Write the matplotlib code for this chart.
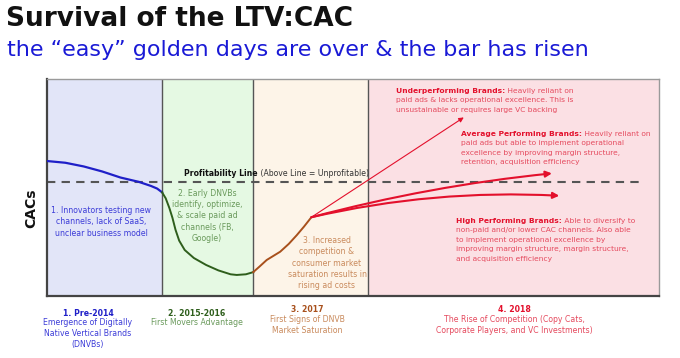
import matplotlib
matplotlib.use("Agg")
import matplotlib.pyplot as plt

W, H = 680, 358

# era boundaries on a 0-10 time scale, and CAC level on a 0-10 scale
era_edges = [0, 1.88, 3.37, 5.25, 10]
era_fills = ["#e2e5f8", "#e5f9e3", "#fdf4e8", "#fbe0e4"]
profit_line = 5.25

blue_x = [0, 0.3, 0.6, 0.9, 1.2, 1.5, 1.7, 1.8, 1.88]
blue_y = [6.22, 6.14, 5.97, 5.74, 5.46, 5.26, 5.07, 4.95, 4.78]
green_x = [1.88, 1.94, 2.0, 2.05, 2.1, 2.16, 2.25, 2.4, 2.6, 2.8, 3.0, 3.1, 3.25, 3.37]
green_y = [4.78, 4.5, 4.05, 3.6, 3.05, 2.55, 2.12, 1.75, 1.43, 1.18, 1.0, 0.97, 1.0, 1.1]
orange_x = [3.37, 3.47, 3.59, 3.7, 3.81, 3.95, 4.08, 4.2, 4.32]
orange_y = [1.1, 1.35, 1.66, 1.85, 2.04, 2.4, 2.8, 3.2, 3.63]

fork = (4.32, 3.63)
under_end = (6.81, 8.23)
average_end = (8.25, 5.65)
high_end = (8.37, 4.62)

era_labels = ["1. Pre-2014", "2. 2015-2016", "3. 2017", "4. 2018"]
era_subs = ["Emergence of Digitally\nNative Vertical Brands\n(DNVBs)",
            "First Movers Advantage",
            "First Signs of DNVB\nMarket Saturation",
            "The Rise of Competition (Copy Cats,\nCorporate Players, and VC Investments)"]
era_notes = ["1. Innovators testing new\nchannels, lack of SaaS,\nunclear business model",
             "2. Early DNVBs\nidentify, optimize,\n& scale paid ad\nchannels (FB,\nGoogle)",
             "3. Increased\ncompetition &\nconsumer market\nsaturation results in\nrising ad costs"]

BLUE, BLUE_T = "#1f1fc8", "#3c3cd8"
GREEN, GREEN_T = "#2e5e1c", "#6a9a5c"
BROWN, BROWN_T = "#a8501c", "#c98a5c"
RED, RED_T = "#e3102c", "#e54a5e"

plt.rcParams['font.family'] = ['DejaVu Sans']

fig = plt.figure(figsize=(W / 100, H / 100), dpi=100)
ax = fig.add_axes([47 / W, (H - 296) / H, 612 / W, 217 / H])
ax.set_xlim(0, 10)
ax.set_ylim(0, 10)
ax.set_xticks([])
ax.set_yticks([])
for s in ["left", "bottom"]:
    ax.spines[s].set_color("#444444")
    ax.spines[s].set_linewidth(1.6)
for s in ["top", "right"]:
    ax.spines[s].set_color("#9a9a9a")
    ax.spines[s].set_linewidth(1.0)

for i in range(4):
    ax.axvspan(era_edges[i], era_edges[i + 1], color=era_fills[i], zorder=0, lw=0)
for x in era_edges[1:4]:
    ax.axvline(x, color="#555555", lw=1.0, zorder=1)

ax.plot([0, 9.72], [profit_line, profit_line], color="#555555", lw=1.5,
        dashes=(4, 3), zorder=2)

ax.plot(blue_x, blue_y, color=BLUE, lw=1.6, zorder=3)
ax.plot(green_x, green_y, color=GREEN, lw=1.4, zorder=3)
ax.plot(orange_x, orange_y, color=BROWN, lw=1.4, zorder=3)

ax.annotate("", xy=under_end, xytext=fork,
            arrowprops=dict(arrowstyle="-|>", color=RED, lw=0.8,
                            mutation_scale=7, shrinkA=0, shrinkB=0))
ax.annotate("", xy=average_end, xytext=fork,
            arrowprops=dict(arrowstyle="-|>", color=RED, lw=1.5, mutation_scale=9,
                            shrinkA=0, shrinkB=0, connectionstyle="arc3,rad=-0.04"))
ax.annotate("", xy=high_end, xytext=fork,
            arrowprops=dict(arrowstyle="-|>", color=RED, lw=1.5, mutation_scale=9,
                            shrinkA=0, shrinkB=0, connectionstyle="arc3,rad=-0.07"))


def fx(x):
    return x / W


def fy(y):
    return 1 - y / H


# titles
fig.text(fx(6), fy(19), "Survival of the LTV:CAC", fontsize=19, fontweight="bold",
         va="center", ha="left", color="#111111")
fig.text(fx(7), fy(50), "the \u201ceasy\u201d golden days are over & the bar has risen",
         fontsize=16, va="center", ha="left", color="#1a1ad6")

fig.text(fx(31), fy(208), "CACs", fontsize=10, fontweight="bold", rotation=90,
         va="center", ha="center", color="#111111")

# profitability label
t = fig.text(fx(184), fy(173), "Profitability Line", fontsize=5.6, fontweight="bold",
             va="center", ha="left", color="#111111")
ax.annotate(" (Above Line = Unprofitable)", xy=(1, 0), xycoords=t, va="bottom",
            ha="left", fontsize=5.6, color="#333333", annotation_clip=False)

# era notes inside panels
note_pos = [(101, 222, BLUE_T), (207, 216, GREEN_T), (327, 263, BROWN_T)]
for note, (x, y, c) in zip(era_notes, note_pos):
    fig.text(fx(x), fy(y), note, fontsize=5.6, color=c, ha="center", va="center",
             linespacing=1.32)


def paragraph(x, y, head, first, rest):
    h = fig.text(fx(x), fy(y), head, fontsize=5.4, fontweight="bold", color=RED,
                 ha="left", va="center")
    ax.annotate(" " + first, xy=(1, 0), xycoords=h, va="bottom", ha="left",
                fontsize=5.4, color=RED_T, annotation_clip=False)
    for k, line in enumerate(rest):
        fig.text(fx(x), fy(y + 9.4 * (k + 1)), line, fontsize=5.4, color=RED_T,
                 ha="left", va="center")


paragraph(396, 91, "Underperforming Brands:", "Heavily reliant on",
          ["paid ads & lacks operational excellence. This is",
           "unsustainable or requires large VC backing"])
paragraph(461, 134, "Average Performing Brands:", "Heavily reliant on",
          ["paid ads but able to implement operational",
           "excellence by improving margin structure,",
           "retention, acquisition efficiency"])
paragraph(456, 221, "High Performing Brands:", "Able to diversify to",
          ["non-paid and/or lower CAC channels. Also able",
           "to implement operational excellence by",
           "improving margin structure, margin structure,",
           "and acquisition efficiency"])

# era labels beneath the axis
label_pos = [(88, 313, BLUE, BLUE_T), (197, 313, GREEN, GREEN_T),
             (307, 310, BROWN, BROWN_T), (514, 310, RED, RED_T)]
for lab, sub, (x, y, c1, c2) in zip(era_labels, era_subs, label_pos):
    fig.text(fx(x), fy(y), lab, fontsize=5.6, fontweight="bold", color=c1,
             ha="center", va="center")
    fig.text(fx(x), fy(y + 5), sub, fontsize=5.6, color=c2, ha="center",
             va="top", linespacing=1.32)

fig.savefig("out.png", dpi=100, facecolor="white")
